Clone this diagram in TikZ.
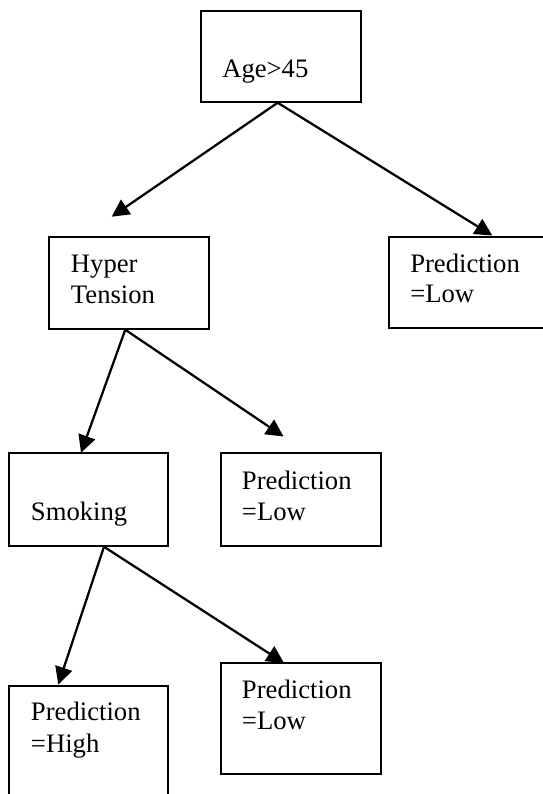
\documentclass[tikz,border=0pt]{standalone}
\usepackage{fontspec}
\setmainfont{Liberation Serif}
\usetikzlibrary{arrows.meta}
\tikzset{
  box/.style={draw, line width=1.1pt, inner sep=0pt, rectangle},
  lbl/.style={anchor=base west, inner sep=0pt, font=\fontsize{20}{23}\selectfont},
  conn/.style={line width=1.7pt, -{Triangle[length=13pt,width=13pt]}}
}
\begin{document}
\begin{tikzpicture}[x=0.75pt,y=-0.75pt]
\useasboundingbox (0,0) rectangle (543,794);
\clip (0,0) rectangle (543,794);
% boxes
\node[box, minimum width=120pt, minimum height=68.25pt] (age) at (281,56.5) {};
\node[box, minimum width=120pt, minimum height=69pt] (hyp) at (129,283) {};
\node[box, minimum width=135pt, minimum height=68.25pt] (predR) at (479,282.5) {};
\node[box, minimum width=119.25pt, minimum height=69.75pt] (smk) at (88.5,499.5) {};
\node[box, minimum width=120pt, minimum height=69.75pt] (predM) at (301,499.5) {};
\node[box, minimum width=119.25pt, minimum height=108pt] (predH) at (88.5,758) {};
\node[box, minimum width=120pt, minimum height=83.25pt] (predL) at (301,718.5) {};
% texts
\node[lbl] (ageT) at (222,77.7) {Age>45};
\node[lbl] (hypT1) at (70.7,272.7) {Hyper};
\node[lbl] (hypT2) at (70.7,303) {Tension};
\node[lbl] (predRT1) at (410,272.7) {Prediction};
\node[lbl] (predRT2) at (410,302.7) {=Low};
\node[lbl] (smkT) at (30.7,520.7) {Smoking};
\node[lbl] (predMT1) at (241.7,489.3) {Prediction};
\node[lbl] (predMT2) at (241.7,520.7) {=Low};
\node[lbl] (predHT1) at (30.7,720) {Prediction};
\node[lbl] (predHT2) at (30.7,752.7) {=High};
\node[lbl] (predLT1) at (241.7,698.3) {Prediction};
\node[lbl] (predLT2) at (241.7,729.3) {=Low};
% connector end points
\coordinate (ageA) at ([xshift=-2.5pt]age.south);
\coordinate (hypA) at ([xshift=-2.8pt]hyp.south);
\coordinate (smkA) at ([xshift=11.6pt]smk.south);
\coordinate (tipHyp) at (111.7,216.7);
\coordinate (tipPredR) at (492.3,235.5);
\coordinate (tipSmk) at (81,452.7);
\coordinate (tipPredM) at (283.5,436.5);
\coordinate (tipPredH) at (58.3,684.5);
\coordinate (tipPredL) at (284,663);
% connectors
\draw[conn] (ageA) -- (tipHyp);
\draw[conn] (ageA) -- (tipPredR);
\draw[conn] (hypA) -- (tipSmk);
\draw[conn] (hypA) -- (tipPredM);
\draw[conn] (smkA) -- (tipPredH);
\draw[conn] (smkA) -- (tipPredL);
\end{tikzpicture}
\end{document}
